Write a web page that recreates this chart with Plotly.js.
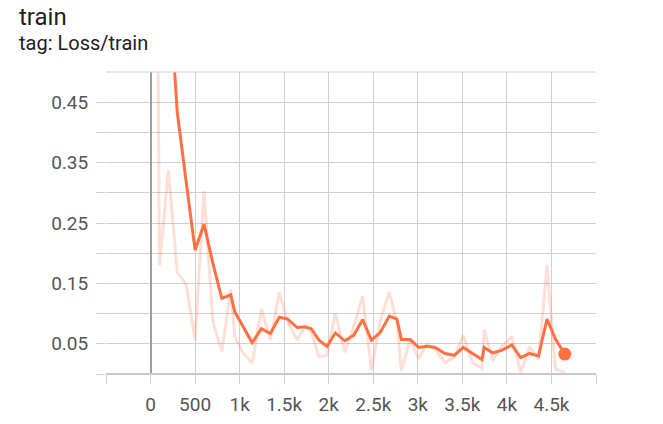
<!DOCTYPE html>
<html>
<head>
<meta charset="utf-8">
<script src="https://cdn.plot.ly/plotly-3.0.1.min.js"></script>
<style>
  html, body { margin: 0; padding: 0; background: #fff; }
  #chart { width: 663px; height: 424px; }
</style>
</head>
<body>
<div id="chart"></div>
<script>
// Steps (x) of the logged points
const steps = [0, 100, 200, 300, 400, 500, 600, 700, 800, 900, 945, 1045, 1140, 1245, 1345, 1445, 1540, 1645,
  1730, 1805, 1890, 1980, 2075, 2180, 2280, 2380, 2480, 2580, 2680, 2765, 2815, 2915, 3010, 3100, 3195,
  3305, 3410, 3510, 3615, 3720, 3745, 3840, 3940, 4055, 4155, 4255, 4355, 4450, 4545, 4650];
// Raw loss values (light line)
const rawLoss = [2.35, 0.18, 0.337, 0.168, 0.148, 0.056, 0.303, 0.086, 0.037, 0.14, 0.061, 0.034, 0.018, 0.108, 0.056, 0.135, 0.086, 0.056,
  0.078, 0.070, 0.028, 0.031, 0.101, 0.036, 0.078, 0.129, 0.006, 0.089, 0.136, 0.084, 0.006, 0.057, 0.025, 0.049, 0.041,
  0.019, 0.027, 0.064, 0.019, 0.009, 0.074, 0.022, 0.045, 0.062, 0.003, 0.045, 0.024, 0.18, 0.008, 0.003];
// Smoothed loss values (bold line)
const smoothLoss = [2.35, 0.99, 0.66, 0.433, 0.318, 0.205, 0.248, 0.183, 0.125, 0.131, 0.103, 0.076, 0.052, 0.075, 0.067, 0.094, 0.091, 0.077,
  0.078, 0.075, 0.056, 0.046, 0.068, 0.055, 0.064, 0.090, 0.056, 0.069, 0.096, 0.091, 0.057, 0.057, 0.044, 0.046, 0.044,
  0.034, 0.031, 0.044, 0.034, 0.024, 0.044, 0.035, 0.039, 0.048, 0.027, 0.034, 0.030, 0.091, 0.058, 0.033];

const xTickVals = [-500, 0, 500, 1000, 1500, 2000, 2500, 3000, 3500, 4000, 4500, 5000];
const xTickText = ['', '0', '500', '1k', '1.5k', '2k', '2.5k', '3k', '3.5k', '4k', '4.5k', ''];
const yTickVals = [0, 0.05, 0.1, 0.15, 0.2, 0.25, 0.3, 0.35, 0.4, 0.45];
const yTickText = ['', '0.05', '', '0.15', '', '0.25', '', '0.35', '', '0.45'];

const color = '#ff7043';
const lastIdx = steps.length - 1;

const traces = [
  { x: steps, y: rawLoss, type: 'scatter', mode: 'lines',
    line: { color: color, width: 3 }, opacity: 0.22, hoverinfo: 'skip' },
  { x: steps, y: smoothLoss, type: 'scatter', mode: 'lines',
    line: { color: color, width: 3 } },
  { x: [steps[lastIdx]], y: [smoothLoss[lastIdx]], type: 'scatter', mode: 'markers',
    marker: { color: color, size: 13 }, cliponaxis: false }
];

const gridColor = '#d0d0d0';
const layout = {
  width: 663, height: 424,
  margin: { l: 106, r: 67, t: 72, b: 50 },
  paper_bgcolor: '#fff', plot_bgcolor: '#fff',
  showlegend: false,
  font: { family: 'Roboto, sans-serif', color: '#555', size: 19 },
  xaxis: {
    range: [-500, 5000], tickmode: 'array', tickvals: xTickVals, ticktext: xTickText,
    showgrid: true, gridcolor: gridColor, gridwidth: 1,
    ticks: 'outside', ticklen: 9, tickcolor: gridColor, tickwidth: 1,
    zeroline: true, zerolinecolor: '#9e9e9e', zerolinewidth: 2,
    showline: false, tickfont: { size: 19, color: '#555' }, ticklabelstandoff: 4
  },
  yaxis: {
    range: [0, 0.5], tickmode: 'array', tickvals: yTickVals, ticktext: yTickText,
    showgrid: true, gridcolor: gridColor, gridwidth: 1,
    ticks: 'outside', ticklen: 9, tickcolor: gridColor, tickwidth: 1,
    zeroline: true, zerolinecolor: '#c8c8c8', zerolinewidth: 2,
    showline: false, tickfont: { size: 19, color: '#555' }, ticklabelstandoff: 4
  },
  shapes: [
    { type: 'line', xref: 'paper', yref: 'paper', x0: 0, x1: 1, y0: 1, y1: 1,
      line: { color: gridColor, width: 1 } }
  ],
  annotations: [
    { text: 'train', xref: 'paper', yref: 'paper', x: (17 - 106) / 490, y: 1 + (72 - 17) / 302,
      xanchor: 'left', yanchor: 'middle',
      showarrow: false, font: { size: 24, color: '#212121', family: 'Roboto, sans-serif' } },
    { text: 'tag: Loss/train', xref: 'paper', yref: 'paper', x: (17 - 106) / 490, y: 1 + (72 - 43) / 302,
      xanchor: 'left', yanchor: 'middle',
      showarrow: false, font: { size: 20, color: '#212121', family: 'Roboto, sans-serif' } }
  ]
};

Plotly.newPlot('chart', traces, layout, { displayModeBar: false, staticPlot: true });
</script>
</body>
</html>
